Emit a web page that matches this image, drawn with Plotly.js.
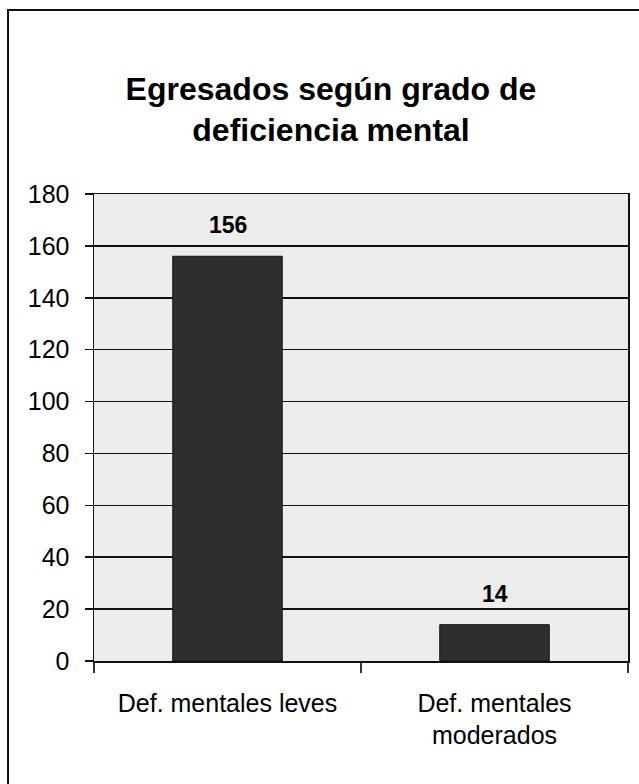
<!DOCTYPE html>
<html>
<head>
<meta charset="utf-8">
<script src="https://cdn.plot.ly/plotly-3.0.1.min.js"></script>
<style>html,body{margin:0;padding:0;background:#fff;}#chart{width:639px;height:784px;}</style>
</head>
<body>
<div id="chart"></div>
<script>
const categories = ["Def. mentales leves", "Def. mentales<br>moderados"];
const values = [156, 14];
const yTicks = [0, 20, 40, 60, 80, 100, 120, 140, 160, 180];
const titleText = "<b>Egresados según grado de<br>deficiencia mental</b>";

const FONT = "'Liberation Sans', Arial, sans-serif";

const trace = {
  type: "bar",
  x: categories,
  y: values,
  width: 0.41,
  marker: {color: "#2e2e2e", line: {color: "#111", width: 1}},
  hoverinfo: "none"
};

const annotations = categories.map((c, i) => ({
  x: c, y: values[i], xref: "x", yref: "y",
  text: "<b>" + values[i] + "</b>",
  showarrow: false, yanchor: "middle", yshift: 31,
  font: {family: FONT, size: 23, color: "#000"}
}));

const layout = {
  width: 639, height: 784,
  margin: {l: 94, r: 11, t: 194, b: 123},
  paper_bgcolor: "#ffffff",
  plot_bgcolor: "#ececec",
  showlegend: false,
  title: {
    text: titleText,
    font: {family: FONT, size: 32, color: "#000"},
    xref: "container", x: 0.518, xanchor: "center",
    yref: "container", y: 0.873, yanchor: "middle"
  },
  xaxis: {
    type: "category",
    tickson: "boundaries",
    ticks: "outside", ticklen: 10, tickcolor: "#333", tickwidth: 1.5,
    showline: true, linecolor: "#111", linewidth: 1.5, mirror: true,
    showgrid: false,
    tickfont: {family: FONT, size: 25, color: "#000"},
    ticklabelstandoff: 19
  },
  yaxis: {
    range: [0, 180],
    tickvals: yTicks,
    ticks: "outside", ticklen: 8, tickcolor: "#111", tickwidth: 1.5,
    showline: true, linecolor: "#111", linewidth: 1.5, mirror: true,
    showgrid: true, gridcolor: "#111", gridwidth: 1.5,
    zeroline: false,
    tickfont: {family: FONT, size: 25, color: "#000"},
    ticklabelstandoff: 10
  },
  annotations: annotations,
  shapes: [{
    type: "rect", xref: "paper", yref: "paper",
    x0: -0.161, x1: 1.05, y0: -0.3, y1: 1.394,
    line: {color: "#111", width: 2}, fillcolor: "rgba(0,0,0,0)", layer: "below"
  }]
};

Plotly.newPlot("chart", [trace], layout, {displayModeBar: false, staticPlot: true});
</script>
</body>
</html>
